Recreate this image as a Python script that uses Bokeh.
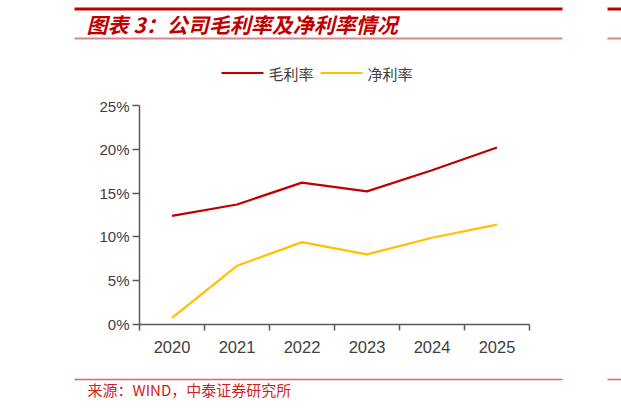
from bokeh.plotting import figure
from bokeh.models import Range1d, FixedTicker, PrintfTickFormatter
from bokeh.layouts import column
from bokeh.core.properties import value
from bokeh.embed import file_html
from bokeh.resources import INLINE

# ---- data ----
years = ["2020", "2021", "2022", "2023", "2024", "2025"]
gross_margin = [12.4, 13.7, 16.2, 15.2, 17.6, 20.2]   # 毛利率 (%)
net_margin = [0.75, 6.7, 9.4, 8.0, 9.9, 11.4]         # 净利率 (%)
y_ticks = [0, 5, 10, 15, 20, 25]
title_text = "图表 3：公司毛利率及净利率情况"
source_text = "来源：WIND，中泰证券研究所"
series_names = ["毛利率", "净利率"]

RED = "#C00000"
YEL = "#FFC000"
AX = "#595959"
TXT = "#404040"
CJK = "Noto Sans CJK SC"

W = 621
HEAD_H = 97
MAIN_H = 275
FOOT_H = 38
# frame in page pixels
FL, FR, FT, FB = 139, 529, 105, 324
NX = len(years)
YMAX = 25


def blank(h):
    # frames of a column are aligned with the main chart, so map page pixels directly
    f = figure(width=W, height=h, output_backend="svg", toolbar_location=None,
               x_range=Range1d(FL, FR), y_range=Range1d(h, 0),
               min_border_left=FL, min_border_right=W - FR,
               min_border_top=0, min_border_bottom=0)
    f.axis.visible = False
    f.grid.visible = False
    f.outline_line_color = None
    f.background_fill_color = "white"
    f.border_fill_color = "white"
    return f


# ---- header ----
hd = blank(HEAD_H)
hd.segment(x0=[74, 74, 607, 607], y0=[8.5, 38, 8.5, 38], x1=[562, 562, 621, 621], y1=[8.5, 38, 8.5, 38],
           line_color=[RED, "#E08585", RED, "#E08585"], line_width=[3, 2, 3, 2], level="overlay")
hd.text(x=[86], y=[23.5], text=[title_text], text_font=value(CJK), text_font_style="bold italic",
        text_font_size="21px", text_color=RED, text_baseline="middle", text_align="left",
        level="overlay")
hd.segment(x0=[221, 320], y0=[72.5, 72.5], x1=[263, 362], y1=[72.5, 72.5],
           line_color=[RED, YEL], line_width=2.2, level="overlay")
hd.text(x=[268, 367], y=[72.5, 72.5], text=series_names, text_font=value(CJK),
        text_font_size="15px", text_color=TXT, text_baseline="middle", text_align="left",
        level="overlay")

# ---- main chart ----
top_off = FT - HEAD_H
p = figure(width=W, height=MAIN_H, output_backend="svg", toolbar_location=None,
           x_range=Range1d(0, NX), y_range=Range1d(0, YMAX),
           min_border_left=FL, min_border_right=W - FR,
           min_border_top=top_off, min_border_bottom=HEAD_H + MAIN_H - FB)
p.outline_line_color = None
p.xgrid.visible = False
p.ygrid.visible = False
p.background_fill_color = "white"
p.border_fill_color = "white"

xs = [i + 0.5 for i in range(NX)]
p.line(xs, gross_margin, line_color=RED, line_width=2.2)
p.line(xs, net_margin, line_color=YEL, line_width=2.2)

xa = p.xaxis[0]
xa.ticker = FixedTicker(ticks=xs, minor_ticks=list(range(NX + 1)))
xa.major_label_overrides = {x: y for x, y in zip(xs, years)}
xa.major_tick_out = 0
xa.major_tick_in = 0
xa.minor_tick_out = 6
xa.minor_tick_in = 0
xa.minor_tick_line_color = AX
xa.minor_tick_line_width = 1.5
xa.axis_line_color = AX
xa.axis_line_width = 1.5
xa.major_label_text_font = "Liberation Sans"
xa.major_label_text_font_size = "16.5px"
xa.major_label_text_color = TXT
xa.major_label_standoff = 10

ya = p.yaxis[0]
ya.ticker = FixedTicker(ticks=y_ticks, minor_ticks=[])
ya.formatter = PrintfTickFormatter(format="%d%%")
ya.major_tick_out = 7
ya.major_tick_in = 0
ya.major_tick_line_color = AX
ya.major_tick_line_width = 1.5
ya.axis_line_color = AX
ya.axis_line_width = 1.5
ya.major_label_text_font = "Liberation Sans"
ya.major_label_text_font_size = "15px"
ya.major_label_text_color = TXT
ya.major_label_standoff = 3

# ---- footer ----
ft = blank(FOOT_H)
ft.segment(x0=[74, 607], y0=[7, 7], x1=[562, 621], y1=[7, 7], line_color="#D86A6A", line_width=1.5,
           level="overlay")
ft.text(x=[87], y=[17], text=[source_text], text_font=value(CJK), text_font_size="15px",
        text_color="#CC1F1F", text_baseline="middle", text_align="left", level="overlay")

layout = column(hd, p, ft, spacing=0)
open("out.html", "w").write(file_html(layout, INLINE))
